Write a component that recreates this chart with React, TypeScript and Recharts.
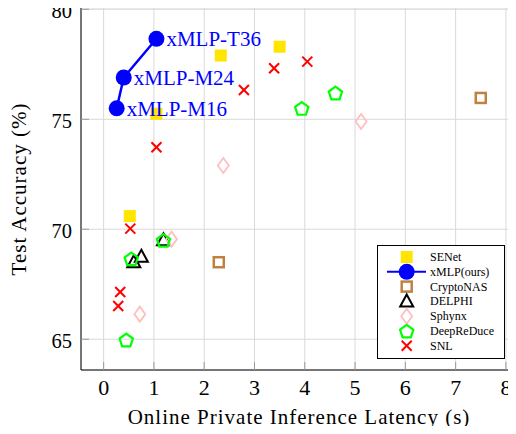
import { ScatterChart, Scatter, XAxis, YAxis, CartesianGrid, LabelList } from 'recharts'

const xTicks = [0, 1, 2, 3, 4, 5, 6, 7, 8]
const yTicks = [65, 70, 75, 80]

const senetX = [0.52, 1.05, 2.33, 3.5]
const senetY = [70.6, 75.25, 77.9, 78.3]

const xmlpNames = ['xMLP-M16', 'xMLP-M24', 'xMLP-T36']
const xmlpX = [0.26, 0.4, 1.05]
const xmlpY = [75.5, 76.9, 78.66]

const cryptoX = [2.29, 7.5]
const cryptoY = [68.5, 75.97]

const delphiX = [0.6, 0.75, 1.19]
const delphiY = [68.5, 68.75, 69.5]

const sphynxX = [0.72, 1.35, 2.38, 5.12]
const sphynxY = [66.14, 69.55, 72.9, 74.9]

const deepX = [0.45, 0.55, 1.19, 3.94, 4.61]
const deepY = [64.97, 68.66, 69.5, 75.5, 76.2]

const snlX = [0.29, 0.33, 0.53, 1.05, 2.79, 3.39, 4.05]
const snlY = [66.51, 67.15, 70.03, 73.73, 76.33, 77.32, 77.62]

const toPoints = (xs: number[], ys: number[]) => xs.map((x, i) => ({ x, y: ys[i] }))

const FONT = '"Liberation Serif", "Times New Roman", serif'
const BLUE = '#0000ff'
const TICK = '#999999'

const YellowSquare = ({ cx, cy }: any) => <rect x={cx - 6} y={cy - 6} width={12} height={12} fill="#ffe500" />
const BlueDot = ({ cx, cy }: any) => <circle cx={cx} cy={cy} r={8} fill={BLUE} />
const BrownSquare = ({ cx, cy }: any) => (
  <rect x={cx - 5} y={cy - 5} width={10} height={10} fill="none" stroke="#bf8040" strokeWidth={2.5} />
)
const Triangle = ({ cx, cy }: any) => (
  <polygon points={`${cx},${cy - 7} ${cx + 6.5},${cy + 5} ${cx - 6.5},${cy + 5}`} fill="none" stroke="#000" strokeWidth={2} />
)
const Diamond = ({ cx, cy }: any) => (
  <polygon points={`${cx},${cy - 7.5} ${cx + 5.5},${cy} ${cx},${cy + 7.5} ${cx - 5.5},${cy}`} fill="none" stroke="#ffbfbf" strokeWidth={1.8} />
)
const Pentagon = ({ cx, cy }: any) => {
  const pts = [0, 1, 2, 3, 4]
    .map((k) => {
      const a = -Math.PI / 2 + (k * 2 * Math.PI) / 5
      return `${cx + 7 * Math.cos(a)},${cy + 7 * Math.sin(a) + 0.8}`
    })
    .join(' ')
  return <polygon points={pts} fill="none" stroke="#00ff00" strokeWidth={2.2} />
}
const Cross = ({ cx, cy }: any) => (
  <g stroke="#ff0000" strokeWidth={2}>
    <line x1={cx - 5} y1={cy - 5} x2={cx + 5} y2={cy + 5} />
    <line x1={cx - 5} y1={cy + 5} x2={cx + 5} y2={cy - 5} />
  </g>
)

const BottomTick = ({ x, y, payload }: any) => (
  <g>
    <line x1={x} y1={y} x2={x} y2={y - 8} stroke={TICK} />
    <text x={x} y={y + 25} textAnchor="middle" fontFamily={FONT} fontSize={22} fill="#000">
      {payload.value}
    </text>
  </g>
)
const TopTick = ({ x, y }: any) => <line x1={x} y1={y} x2={x} y2={y + 8} stroke={TICK} />
const LeftTick = ({ x, y, payload }: any) => (
  <g>
    <line x1={x} y1={y} x2={x + 8} y2={y} stroke={TICK} />
    <text x={x - 9} y={y + 9} textAnchor="end" fontFamily={FONT} fontSize={20.5} fill="#000">
      {payload.value}
    </text>
  </g>
)

const XTitle = ({ viewBox }: any) => (
  <text x={viewBox.x + viewBox.width / 2 - 2} y={viewBox.y + 54} textAnchor="middle" fontFamily={FONT} fontSize={21} letterSpacing={1} fill="#000">
    Online Private Inference Latency (s)
  </text>
)

const YTitle = ({ viewBox }: any) => {
  const cy = viewBox.y + viewBox.height / 2
  return (
    <text x={26} y={cy} transform={`rotate(-90 26 ${cy})`} textAnchor="middle" fontFamily={FONT} fontSize={21} letterSpacing={1} fill="#000">
      Test Accuracy (%)
    </text>
  )
}

const XmlpLabel = ({ x, y, width, height, value }: any) => {
  const cx = x + width / 2
  const cy = y + height / 2
  return (
    <text x={cx + 10} y={cy + 7.3} fontFamily={FONT} fontSize={21} fill={BLUE}>
      {value}
    </text>
  )
}

const legendItems = [
  { name: 'SENet', Shape: YellowSquare },
  { name: 'xMLP(ours)', Shape: BlueDot, line: true },
  { name: 'CryptoNAS', Shape: BrownSquare },
  { name: 'DELPHI', Shape: Triangle },
  { name: 'Sphynx', Shape: Diamond },
  { name: 'DeepReDuce', Shape: Pentagon },
  { name: 'SNL', Shape: Cross },
]

function Legend() {
  return (
    <svg style={{ position: 'absolute', left: 377, top: 245 }} width={128} height={114}>
      <rect x={0.5} y={0.5} width={127} height={113} fill="#fff" stroke="#000" />
      {legendItems.map((it, i) => {
        const cy = 12 + i * 14.8
        return (
          <g key={it.name}>
            {it.line && <line x1={10} y1={cy} x2={49} y2={cy} stroke={BLUE} strokeWidth={2} />}
            <it.Shape cx={29.7} cy={cy} />
            <text x={53} y={cy + 4} fontFamily={FONT} fontSize={12} fill="#000">
              {it.name}
            </text>
          </g>
        )
      })}
    </svg>
  )
}

export default function App() {
  const xmlpData = xmlpX.map((x, i) => ({ x, y: xmlpY[i], name: xmlpNames[i] }))
  return (
    <div style={{ position: 'relative', width: 516, height: 434, margin: -8, overflow: 'hidden', background: '#fff' }}>
      <ScatterChart width={530} height={434} margin={{ top: 8, right: 9, bottom: 0, left: 0 }}>
        <CartesianGrid stroke="#d9d9d9" strokeWidth={1} />
        <XAxis
          type="number"
          dataKey="x"
          domain={[-0.45, 8.3]}
          ticks={xTicks}
          allowDataOverflow
          height={64}
          tickSize={0}
          tickMargin={0}
          tickLine={false}
          axisLine={{ stroke: '#000' }}
          tick={<BottomTick />}
          label={<XTitle />}
        />
        <XAxis
          xAxisId="top"
          orientation="top"
          type="number"
          domain={[-0.45, 8.3]}
          ticks={xTicks}
          allowDataOverflow
          height={0}
          tickSize={0}
          tickMargin={0}
          tickLine={false}
          axisLine={{ stroke: '#000' }}
          tick={<TopTick />}
        />
        <YAxis
          type="number"
          dataKey="y"
          domain={[63.6, 80.06]}
          ticks={yTicks}
          allowDataOverflow
          width={81}
          tickSize={0}
          tickMargin={0}
          tickLine={false}
          axisLine={{ stroke: '#000' }}
          tick={<LeftTick />}
          label={<YTitle />}
        />
        <Scatter data={toPoints(senetX, senetY)} shape={<YellowSquare />} isAnimationActive={false} />
        <Scatter data={xmlpData} shape={<BlueDot />} line={{ stroke: BLUE, strokeWidth: 2.5 }} isAnimationActive={false}>
          <LabelList dataKey="name" content={<XmlpLabel />} />
        </Scatter>
        <Scatter data={toPoints(cryptoX, cryptoY)} shape={<BrownSquare />} isAnimationActive={false} />
        <Scatter data={toPoints(delphiX, delphiY)} shape={<Triangle />} isAnimationActive={false} />
        <Scatter data={toPoints(sphynxX, sphynxY)} shape={<Diamond />} isAnimationActive={false} />
        <Scatter data={toPoints(deepX, deepY)} shape={<Pentagon />} isAnimationActive={false} />
        <Scatter data={toPoints(snlX, snlY)} shape={<Cross />} isAnimationActive={false} />
      </ScatterChart>
      <Legend />
    </div>
  )
}
